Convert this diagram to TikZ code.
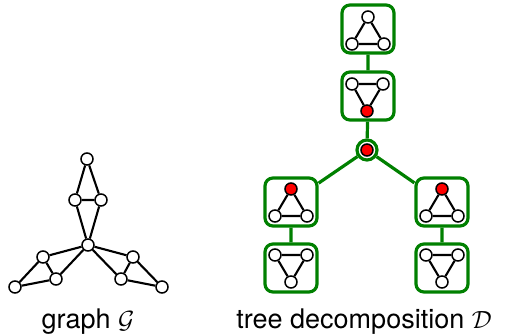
\documentclass[tikz,border=0pt]{standalone}
\usepackage{fontspec}
\setmainfont{TeX Gyre Heros}
\definecolor{tgreen}{RGB}{0,128,0}
\begin{document}
\begin{tikzpicture}[x=1pt,y=-1pt,
  vtx/.style={circle,draw=black,fill=white,line width=1.5pt,inner sep=0pt,minimum size=12pt},
  rvtx/.style={vtx,fill=red},
  edge/.style={line width=2.1pt},
  bag/.style={draw=tgreen,line width=3.2pt,rounded corners=8pt,minimum width=52pt,minimum height=48pt,inner sep=0pt},
  link/.style={draw=tgreen,line width=3.2pt},
  lbl/.style={anchor=base,font=\fontsize{27}{32}\selectfont,inner sep=0pt}]
\useasboundingbox (0,0) rectangle (505,336);
% graph G
\node[vtx] (g1) at (87,159) {};
\node[vtx] (g2) at (75,200) {};
\node[vtx] (g3) at (101,200) {};
\node[vtx] (g0) at (88,245) {};
\node[vtx] (l1) at (43,257) {};
\node[vtx] (l2) at (56,279) {};
\node[vtx] (l3) at (15,287) {};
\node[vtx] (r1) at (133,257) {};
\node[vtx] (r2) at (121,279) {};
\node[vtx] (r3) at (162,287) {};
\draw[edge] (g1)--(g2) (g1)--(g3) (g2)--(g3) (g2)--(g0) (g3)--(g0)
  (g0)--(l1) (g0)--(l2) (l1)--(l2) (l1)--(l3) (l2)--(l3)
  (g0)--(r1) (g0)--(r2) (r1)--(r2) (r1)--(r3) (r2)--(r3);
% tree decomposition
\node[bag] (b1) at (368,29) {};
\node[bag] (b2) at (368,96) {};
\node[circle,draw=tgreen,line width=3.2pt,minimum size=20pt,inner sep=0pt] (c) at (367,150) {};
\node[bag] (b3) at (291,202) {};
\node[bag] (b4) at (291,268) {};
\node[bag] (b5) at (442,202) {};
\node[bag] (b6) at (442,268) {};
\draw[link] (b1)--(b2) (b2)--(c) (c)--(b3) (c)--(b5) (b3)--(b4) (b5)--(b6);
\node[rvtx] (cv) at (c) {};
% bag contents
\node[vtx] (b1a) at (368,17) {};
\node[vtx] (b1b) at (352,44) {};
\node[vtx] (b1c) at (384,44) {};
\draw[edge] (b1a)--(b1b) (b1b)--(b1c) (b1c)--(b1a);
\node[vtx] (b2a) at (352,84) {};
\node[vtx] (b2b) at (383,84) {};
\node[rvtx] (b2c) at (367,111) {};
\draw[edge] (b2a)--(b2b) (b2b)--(b2c) (b2c)--(b2a);
\node[rvtx] (b3a) at (291,189) {};
\node[vtx] (b3b) at (275,216) {};
\node[vtx] (b3c) at (307,216) {};
\draw[edge] (b3a)--(b3b) (b3b)--(b3c) (b3c)--(b3a);
\node[vtx] (b4a) at (275,255) {};
\node[vtx] (b4b) at (307,255) {};
\node[vtx] (b4c) at (291,282) {};
\draw[edge] (b4a)--(b4b) (b4b)--(b4c) (b4c)--(b4a);
\node[rvtx] (b5a) at (442,189) {};
\node[vtx] (b5b) at (426,216) {};
\node[vtx] (b5c) at (458,216) {};
\draw[edge] (b5a)--(b5b) (b5b)--(b5c) (b5c)--(b5a);
\node[vtx] (b6a) at (426,255) {};
\node[vtx] (b6b) at (458,255) {};
\node[vtx] (b6c) at (442,282) {};
\draw[edge] (b6a)--(b6b) (b6b)--(b6c) (b6c)--(b6a);
% labels
\node[lbl] (t1) at (88,328) {graph $\mathcal{G}$};
\node[lbl] (t2) at (364,328) {tree decomposition $\mathcal{D}$};
\end{tikzpicture}
\end{document}
